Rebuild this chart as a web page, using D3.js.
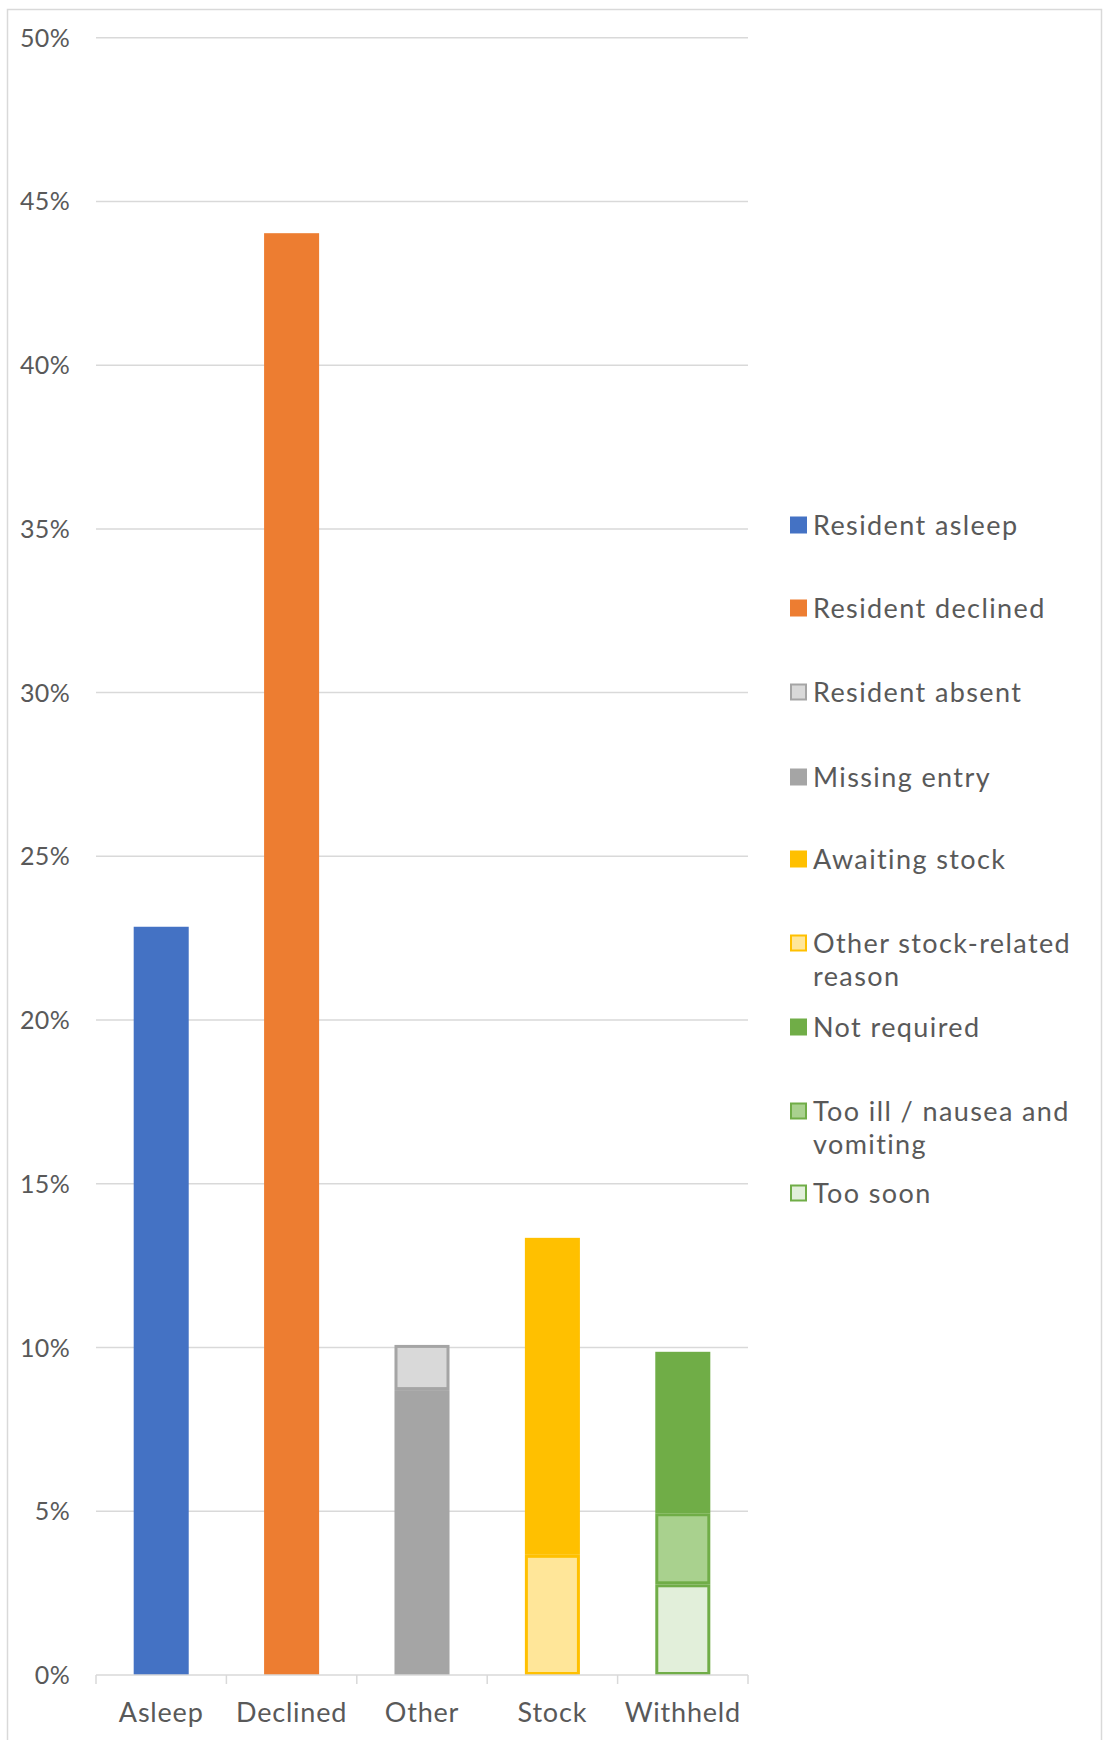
<!DOCTYPE html>
<html>
<head>
<meta charset="utf-8">
<script src="https://cdn.jsdelivr.net/npm/d3@7"></script>
<style>
  body { margin: 0; background: #fff; }
  text { font-family: "Lato", "DejaVu Sans", sans-serif; fill: #595959; }
</style>
</head>
<body>
<script>
// categories on the x axis
var categories = ["Asleep", "Declined", "Other", "Stock", "Withheld"]

// series, in legend order
var seriesNames = ["Resident asleep", "Resident declined", "Resident absent", "Missing entry",
  "Awaiting stock", "Other stock-related reason", "Not required", "Too ill / nausea and vomiting", "Too soon"]
var seriesCategory = ["Asleep", "Declined", "Other", "Other", "Stock", "Stock", "Withheld", "Withheld", "Withheld"]
var seriesValues = [22.85, 44.03, 1.38, 8.70, 9.68, 3.67, 4.93, 2.17, 2.77]
// stacking order from the bottom up
var stackOrder = ["Resident asleep", "Resident declined", "Missing entry", "Resident absent",
  "Other stock-related reason", "Awaiting stock", "Too soon", "Too ill / nausea and vomiting", "Not required"]
var yTicks = [0, 5, 10, 15, 20, 25, 30, 35, 40, 45, 50]

var fills = ["#4472C4", "#ED7D31", "#D9D9D9", "#A5A5A5", "#FFC000", "#FFE699", "#70AD47", "#A9D18E", "#E2EFDA"]
var strokes = [null, null, "#A5A5A5", null, null, "#FFC000", null, "#70AD47", "#70AD47"]

var W = 1104, H = 1740
var svg = d3.select("body").append("svg")
  .attr("width", W).attr("height", H)

// outer chart border
svg.append("rect")
  .attr("x", 7.5).attr("y", 9.5)
  .attr("width", 1094).attr("height", 1740)
  .attr("fill", "none").attr("stroke", "#D9D9D9").attr("stroke-width", 1.5)

var x = d3.scaleBand()
  .domain(categories)
  .range([96, 748])
  .paddingInner(0.578)
  .paddingOuter(0.289)

var y = d3.scaleLinear()
  .domain([0, 50])
  .range([1675, 37.7])

// gridlines
svg.append("g").selectAll("line")
  .data(yTicks.filter(function(d){ return d > 0 }))
  .enter().append("line")
    .attr("x1", 96).attr("x2", 748)
    .attr("y1", function(d){ return y(d) }).attr("y2", function(d){ return y(d) })
    .attr("stroke", "#D9D9D9").attr("stroke-width", 1.5)

// y labels
svg.append("g").selectAll("text")
  .data(yTicks)
  .enter().append("text")
    .attr("x", 70)
    .attr("y", function(d){ return y(d) })
    .attr("dy", "0.36em")
    .attr("text-anchor", "end")
    .style("font-size", "25px")
    .style("letter-spacing", "0.3px")
    .text(function(d){ return d + "%" })

// stacked bars
var bottoms = {}
categories.forEach(function(c){ bottoms[c] = 0 })
var segs = stackOrder.map(function(name){
  var i = seriesNames.indexOf(name)
  var c = seriesCategory[i]
  var s = { i: i, cat: c, y0: bottoms[c], y1: bottoms[c] + seriesValues[i] }
  bottoms[c] = s.y1
  return s
})

svg.append("g").selectAll("rect")
  .data(segs)
  .enter().append("rect")
    .attr("x", function(d){ return x(d.cat) + (strokes[d.i] ? 1.5 : 0) })
    .attr("width", function(d){ return x.bandwidth() - (strokes[d.i] ? 3 : 0) })
    .attr("y", function(d){ return y(d.y1) + (strokes[d.i] ? 1.5 : 0) })
    .attr("height", function(d){ return y(d.y0) - y(d.y1) - (strokes[d.i] ? 3 : 0) })
    .attr("fill", function(d){ return fills[d.i] })
    .attr("stroke", function(d){ return strokes[d.i] || "none" })
    .attr("stroke-width", 3)

// x axis
var xAxis = svg.append("g").attr("transform", "translate(0,1675)")
xAxis.append("line")
  .attr("x1", 96).attr("x2", 748)
  .attr("stroke", "#D9D9D9").attr("stroke-width", 1.5)
xAxis.selectAll(".tick")
  .data(d3.range(categories.length + 1))
  .enter().append("line")
    .attr("x1", function(d){ return 96 + d * x.step() })
    .attr("x2", function(d){ return 96 + d * x.step() })
    .attr("y1", 0).attr("y2", 9)
    .attr("stroke", "#D9D9D9").attr("stroke-width", 1.5)
xAxis.selectAll("text")
  .data(categories)
  .enter().append("text")
    .attr("x", function(d){ return x(d) + x.bandwidth() / 2 })
    .attr("y", 37)
    .attr("dy", "0.36em")
    .attr("text-anchor", "middle")
    .style("font-size", "27px")
    .style("letter-spacing", "0.8px")
    .text(function(d){ return d })

// legend
var legendY = [525, 608, 692, 777, 859, 943, 1027, 1111, 1193]
var legendLines = [["Resident asleep"], ["Resident declined"], ["Resident absent"], ["Missing entry"],
  ["Awaiting stock"], ["Other stock-related", "reason"], ["Not required"], ["Too ill / nausea and", "vomiting"], ["Too soon"]]

var leg = svg.append("g").selectAll("g")
  .data(seriesNames)
  .enter().append("g")
    .attr("transform", function(d, i){ return "translate(790," + legendY[i] + ")" })

leg.append("rect")
  .attr("x", function(d, i){ return strokes[i] ? 1 : 0 })
  .attr("y", function(d, i){ return -8.5 + (strokes[i] ? 1 : 0) })
  .attr("width", function(d, i){ return strokes[i] ? 15 : 17 })
  .attr("height", function(d, i){ return strokes[i] ? 15 : 17 })
  .attr("fill", function(d, i){ return fills[i] })
  .attr("stroke", function(d, i){ return strokes[i] || "none" })
  .attr("stroke-width", 2)

leg.append("text")
  .attr("x", 23)
  .attr("y", 0)
  .style("font-size", "27px")
  .style("letter-spacing", "1.4px")
  .selectAll("tspan")
  .data(function(d, i){ return legendLines[i] })
  .enter().append("tspan")
    .attr("x", 23)
    .attr("y", function(d, j){ return j * 33 })
    .attr("dy", "0.36em")
    .text(function(d){ return d })
</script>
</body>
</html>
